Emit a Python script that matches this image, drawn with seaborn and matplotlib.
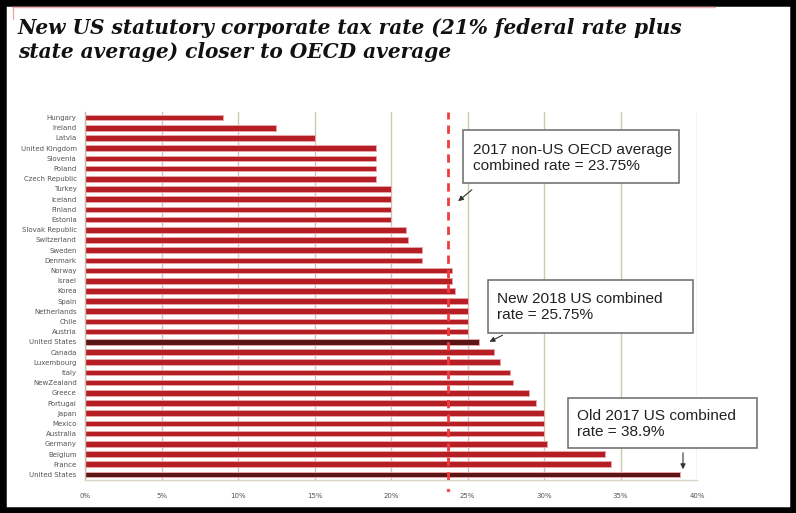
import matplotlib
matplotlib.use("Agg")
import matplotlib.pyplot as plt
from matplotlib.patches import Rectangle, FancyArrowPatch
from matplotlib.lines import Line2D
import seaborn as sns
import pandas as pd

countries = ["Hungary", "Ireland", "Latvia", "United Kingdom", "Slovenia", "Poland",
             "Czech Republic", "Turkey", "Iceland", "Finland", "Estonia", "Slovak Republic",
             "Switzerland", "Sweden", "Denmark", "Norway", "Israel", "Korea", "Spain",
             "Netherlands", "Chile", "Austria", "United States", "Canada", "Luxembourg",
             "Italy", "NewZealand", "Greece", "Portugal", "Japan", "Mexico", "Australia",
             "Germany", "Belgium", "France", "United States"]
rates = [9.0, 12.5, 15.0, 19.0, 19.0, 19.0, 19.0, 20.0, 20.0, 20.0, 20.0, 21.0,
         21.1, 22.0, 22.0, 24.0, 24.0, 24.2, 25.0, 25.0, 25.0, 25.0, 25.75, 26.7,
         27.1, 27.8, 28.0, 29.0, 29.5, 30.0, 30.0, 30.0, 30.2, 34.0, 34.4, 38.9]
is_us = [c == "United States" for c in countries]
oecd_avg = 23.75
xticks = [0, 5, 10, 15, 20, 25, 30, 35, 40]
xtick_labels = ["0%", "5%", "10%", "15%", "20%", "25%", "30%", "35%", "40%"]
title = "New US statutory corporate tax rate (21% federal rate plus\nstate average) closer to OECD average"
note1 = "2017 non-US OECD average\ncombined rate = 23.75%"
note2 = "New 2018 US combined\nrate = 25.75%"
note3 = "Old 2017 US combined\nrate = 38.9%"

W, H = 796, 513
def fx(x): return x / W
def fy(y): return 1 - y / H

df = pd.DataFrame({
    "key": [f"{i:02d}_{c}" for i, c in enumerate(countries)],
    "rate": rates,
    "grp": ["US" if u else "Other" for u in is_us],
})

sns.set_style("white")
fig = plt.figure(figsize=(W / 100, H / 100), dpi=100)
ax = fig.add_axes([fx(85), fy(480), fx(697) - fx(85), fy(112) - fy(480)])

sns.barplot(data=df, y="key", x="rate", hue="grp", dodge=False, orient="h",
            palette={"Other": "#b41e24", "US": "#5a1616"}, legend=False,
            saturation=1, width=0.55, ax=ax, edgecolor="#e8a5a5", linewidth=0.7)

ax.set_xlim(0, 40)
ax.set_ylim(len(countries) - 0.45, -0.55)
ax.set_xticks(xticks)
ax.set_xticklabels(xtick_labels, fontsize=5, color="#555555", family="DejaVu Sans")
ax.set_yticks(range(len(countries)))
ax.set_yticklabels(countries, fontsize=5, color="#555555", family="DejaVu Sans")
ax.set_yticks([i + 0.5 for i in range(-1, len(countries))], minor=True)
ax.tick_params(axis="y", which="major", length=0, pad=6)
ax.tick_params(axis="y", which="minor", length=2, color="#c9bfa5", width=0.8)
ax.tick_params(axis="x", which="major", length=3, color="#c9bfa5", width=0.8, pad=6)
ax.set_xlabel("")
ax.set_ylabel("")
ax.set_axisbelow(True)
ax.grid(axis="x", color="#cfc7b2", linewidth=1.0)
for s in ["top", "right"]:
    ax.spines[s].set_visible(False)
ax.spines["left"].set_color("#c9bfa5")
ax.spines["bottom"].set_color("#dcd6c8")
ax.spines["left"].set_linewidth(1.0)
ax.spines["bottom"].set_linewidth(1.0)

# OECD average dashed line
ax.axvline(oecd_avg, color="#f03c3c", linewidth=2.0, linestyle=(0, (3, 2.2)), zorder=5)
ax.plot([oecd_avg], [-0.028], marker="s", markersize=1.6, color="#f05555",
        transform=ax.get_xaxis_transform(), clip_on=False)

# annotation boxes
for (x0, y0, x1, y1, tx, ty, txt) in [
    (463, 130, 679, 183, 473, 158, note1),
    (488, 280, 693, 333, 497, 307, note2),
    (568, 398, 757, 448, 577, 424, note3),
]:
    fig.add_artist(Rectangle((fx(x0), fy(y1)), fx(x1) - fx(x0), fy(y0) - fy(y1),
                             transform=fig.transFigure, facecolor="white",
                             edgecolor="#6a6a6a", linewidth=1.1, zorder=10))
    fig.text(fx(tx), fy(ty), txt, ha="left", va="center", fontsize=11.1,
             family="Liberation Sans", color="#222222", linespacing=1.14, zorder=11)

for (sx, sy, ex, ey) in [(474, 188, 456, 203), (505, 334, 487, 343), (683, 450, 683, 472)]:
    fig.add_artist(FancyArrowPatch(
        (fx(sx), fy(sy)), (fx(ex), fy(ey)), transform=fig.transFigure,
        arrowstyle="-|>,head_length=3,head_width=1.5", color="#333333",
        linewidth=0.8, zorder=12))

# title
fig.text(fx(18), fy(40), title, ha="left", va="center", fontsize=14.5,
         family="DejaVu Serif", fontweight="bold", fontstyle="italic",
         color="#111111", linespacing=1.25)

# top thin red rule and frame
fig.add_artist(Line2D([fx(12), fx(715)], [fy(7), fy(7)], transform=fig.transFigure,
                      color="#f0a8a8", linewidth=1.0))
fig.add_artist(Line2D([fx(13), fx(13)], [fy(7), fy(19)], transform=fig.transFigure,
                      color="#f0a8a8", linewidth=1.0))
fig.add_artist(Rectangle((0, 0), 1, 1, transform=fig.transFigure, fill=False,
                         edgecolor="black", linewidth=9))

fig.savefig("out.png", dpi=100)
